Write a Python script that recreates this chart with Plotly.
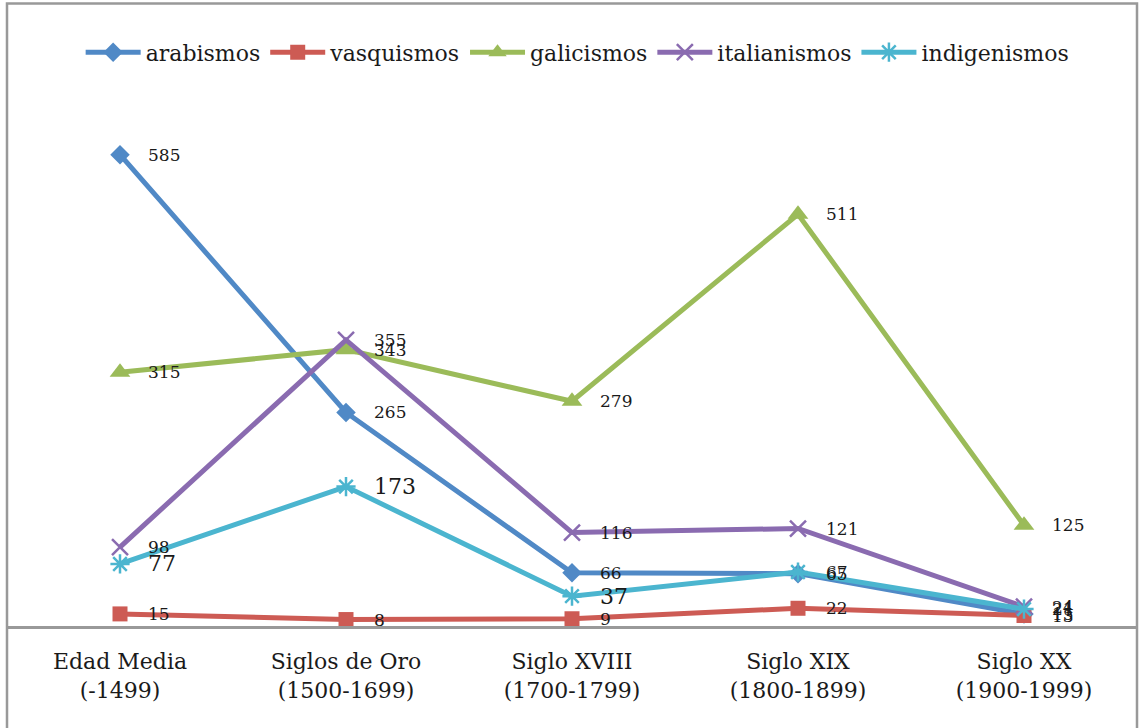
import plotly.graph_objects as go

categories = ["Edad Media<br>(-1499)", "Siglos de Oro<br>(1500-1699)", "Siglo XVIII<br>(1700-1799)",
              "Siglo XIX<br>(1800-1899)", "Siglo XX<br>(1900-1999)"]
arabismos = [585, 265, 66, 65, 15]
vasquismos = [15, 8, 9, 22, 13]
galicismos = [315, 343, 279, 511, 125]
italianismos = [98, 355, 116, 121, 24]
indigenismos = [77, 173, 37, 67, 21]

series = [
    ("arabismos", arabismos, "#5089C6", "diamond", 15, 0, 17),
    ("vasquismos", vasquismos, "#CD5B54", "square", 15, 0, 17),
    ("galicismos", galicismos, "#9BBB59", "triangle-up", 18, 0, 17),
    ("italianismos", italianismos, "#8A6BB0", "x-thin", 16, 2.5, 17),
    ("indigenismos", indigenismos, "#4BB5CF", "asterisk", 16, 2.5, 22),
]

x_idx = list(range(len(categories)))
fig = go.Figure()
annotations = []
for name, vals, color, sym, msize, mlw, lblsize in series:
    fig.add_trace(go.Scatter(
        x=x_idx, y=vals, name=name, mode="lines+markers",
        line=dict(color=color, width=5),
        marker=dict(symbol=sym, size=msize, color=color,
                    line=dict(color=color, width=mlw)),
    ))
    for i, v in enumerate(vals):
        size = lblsize
        if name == "indigenismos" and i >= 3:
            size = 17
        annotations.append(dict(
            x=i, y=v, xref="x", yref="y", text=str(v), showarrow=False,
            xanchor="left", yanchor="middle", xshift=26,
            font=dict(family="DejaVu Serif", size=size, color="#1a1a1a"),
        ))

fig.update_layout(
    width=1143, height=728,
    margin=dict(l=7, r=6, t=62.4, b=102),
    paper_bgcolor="white", plot_bgcolor="white",
    showlegend=True,
    legend=dict(orientation="h", x=0.505, xanchor="center", y=1.017, yanchor="middle",
                font=dict(family="DejaVu Serif", size=22, color="#1a1a1a"),
                itemwidth=55, tracegroupgap=0),
    annotations=annotations,
    shapes=[dict(type="rect", xref="paper", yref="paper", x0=0, x1=1, y0=-0.3, y1=1.1036,
                 line=dict(color="#999999", width=2.5), fillcolor="rgba(0,0,0,0)", layer="above")],
)
fig.update_xaxes(
    range=[-0.5, 4.5], tickvals=x_idx, ticktext=categories,
    showline=True, linecolor="#999999", linewidth=2.5, showgrid=False, zeroline=False,
    ticks="outside", ticklen=0, ticklabelstandoff=14,
    tickfont=dict(family="DejaVu Serif", size=22, color="#1a1a1a"),
)
fig.update_yaxes(range=[0, 700], visible=False, showgrid=False, zeroline=False)

fig.write_html("out.html", config={"displayModeBar": False},
               post_script="document.body.style.margin='0';document.body.style.padding='0';")
